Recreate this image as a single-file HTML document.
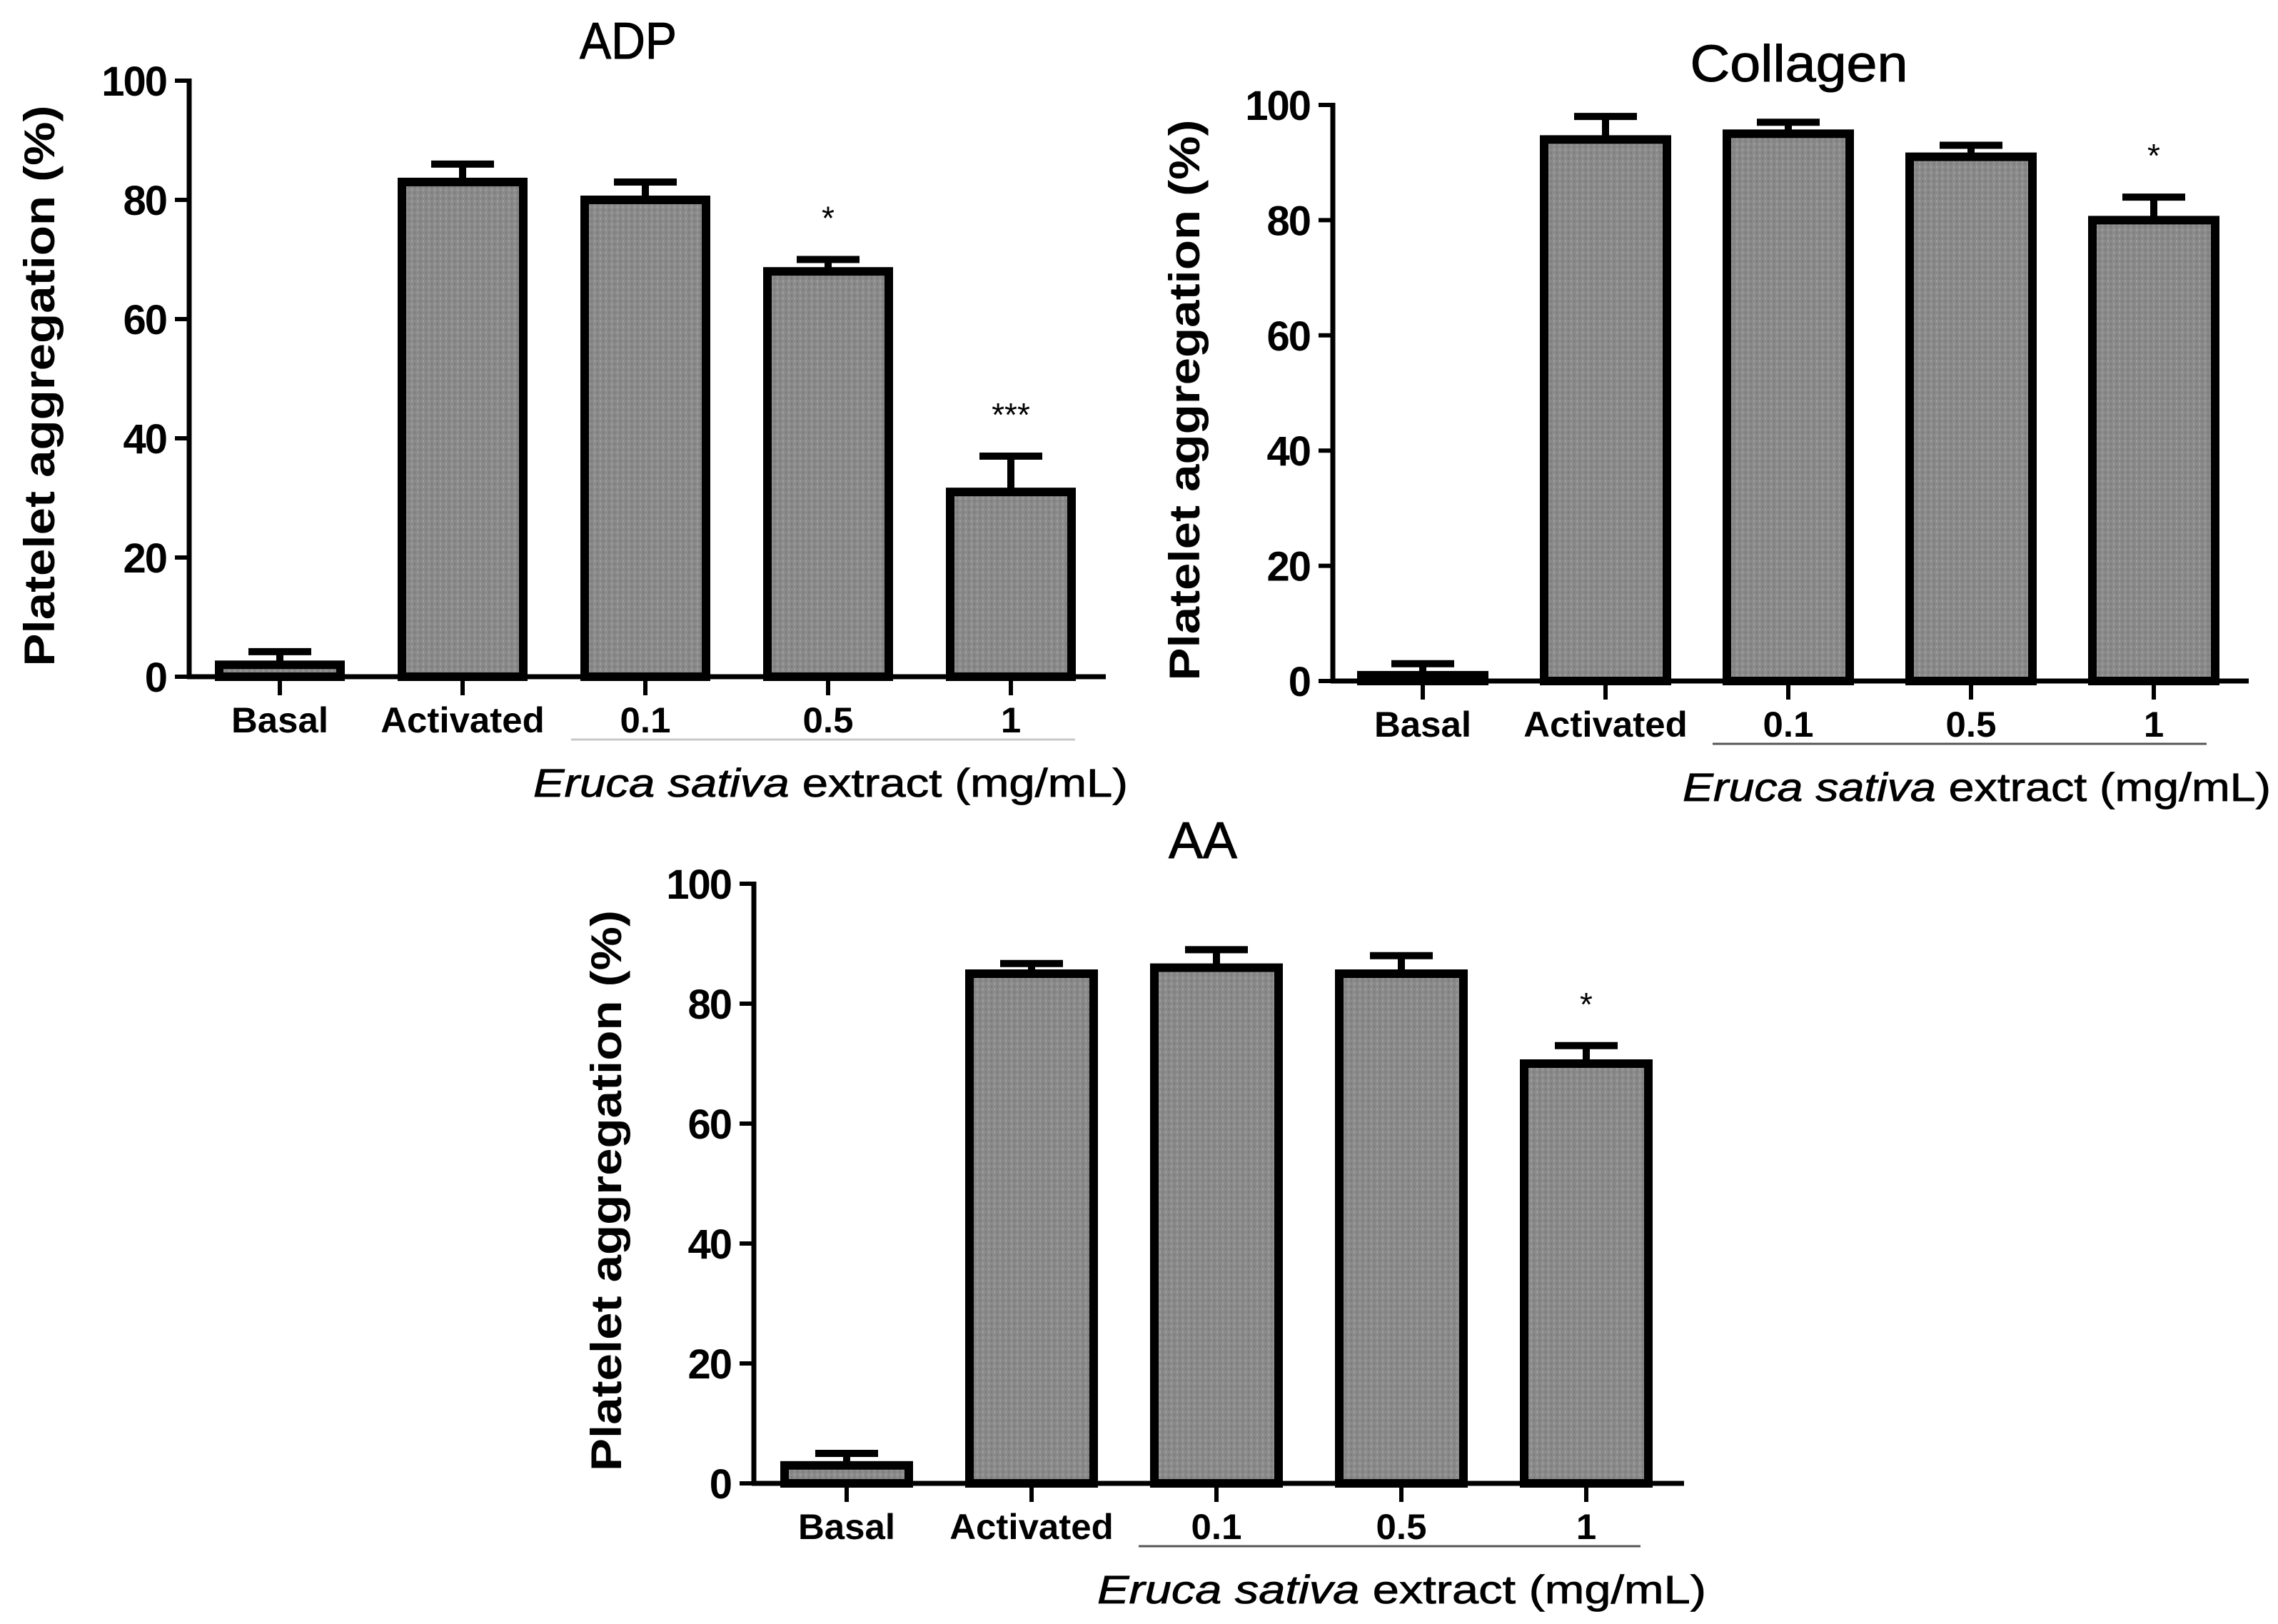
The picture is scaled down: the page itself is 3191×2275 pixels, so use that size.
<!DOCTYPE html>
<html><head><meta charset="utf-8"><style>
html,body{margin:0;padding:0;background:#fff}
svg{display:block}
text{font-family:"Liberation Sans",Arial,sans-serif;fill:#000}
</style></head><body>
<svg id="fig" width="3191" height="2275" viewBox="0 0 3191 2275" xmlns="http://www.w3.org/2000/svg">
<defs>
<pattern id="dots" width="8" height="8" patternUnits="userSpaceOnUse">
<rect width="8" height="8" fill="#8a8a8a"/><rect x="0" y="0" width="2" height="4" fill="#9c9c9c"/><rect x="4" y="4" width="2" height="4" fill="#7c7c7c"/>
</pattern>
</defs>
</svg>
<script>
const categories = ["Basal","Activated","0.1","0.5","1"];
const adpValues = [2, 83, 80, 68, 31];
const adpErrors = [2.2, 3, 3, 2, 6];
const adpStars = ["","","","*","***"];
const colValues = [1, 94, 95, 91, 80];
const colErrors = [2, 4, 2, 2, 4];
const colStars = ["","","","","*"];
const aaValues = [3, 85, 86, 85, 70];
const aaErrors = [2, 1.7, 3, 3, 3];
const aaStars = ["","","","","*"];
const yTicks = [0, 20, 40, 60, 80, 100];

const NS = "http://www.w3.org/2000/svg";
const svg = document.getElementById("fig");
function mk(tag, attrs, parent, txt){
  const e = document.createElementNS(NS, tag);
  for (const k in attrs) e.setAttribute(k, attrs[k]);
  if (txt !== undefined) e.textContent = txt;
  (parent || svg).appendChild(e);
  return e;
}

function drawChart(cfg, values, errors, stars){
  const g = mk("g", {});
  
  
  const y = v => cfg.y0 - (cfg.y0 - cfg.y100) * v / 100;
  const x = i => cfg.c0 + cfg.step * i;
  const t = mk("text", {x: cfg.titleX, y: cfg.titleY, "text-anchor": "middle", "font-size": 72, textLength: cfg.titleW, lengthAdjust: "spacingAndGlyphs", stroke: "#000", "stroke-width": 1}, g, cfg.title);
  
  
  const yt = mk("text", {x: 0, y: 0, "text-anchor": "middle", "font-size": 60, "font-weight": "bold", textLength: 786, lengthAdjust: "spacingAndGlyphs", transform: `translate(${cfg.ytX},${(cfg.y0 + cfg.y100) / 2 + 10}) rotate(-90)`}, g, "Platelet aggregation (%)");
  
  
  values.forEach((v, i) => {
    const top = y(v), bx = x(i) - cfg.bw / 2;
    const eb = mk("line", {x1: x(i), x2: x(i), y1: top, y2: y(v + errors[i]), stroke: "#000", "stroke-width": 10}, g);
    
    
    const cap = mk("line", {x1: x(i) - 44, x2: x(i) + 44, y1: y(v + errors[i]), y2: y(v + errors[i]), stroke: "#000", "stroke-width": 10}, g);
    
    
    const r = mk("rect", {x: bx, y: top, width: cfg.bw, height: cfg.y0 - top, fill: "url(#dots)", stroke: "#000", "stroke-width": 12}, g);
    
    
    if (stars[i]) {
      const s = mk("text", {x: x(i), y: y(v + errors[i]) - 42, "text-anchor": "middle", "font-size": 46}, g, stars[i]);
      
      
    }
    const tk = mk("line", {x1: x(i), x2: x(i), y1: cfg.y0, y2: cfg.y0 + 26, stroke: "#000", "stroke-width": 6}, g);
    
    
    const lb = mk("text", {x: 0, y: 0, "text-anchor": "middle", "font-size": 50, "font-weight": "bold", transform: `translate(${x(i)},${cfg.y0 + 78}) scale(1.02,1)`}, g, categories[i]);
    
    
  });
  const ya = mk("line", {x1: cfg.ax, x2: cfg.ax, y1: cfg.y100 - 3, y2: cfg.y0 + 3, stroke: "#000", "stroke-width": 7}, g);
  
  
  const xa = mk("line", {x1: cfg.ax - 3, x2: cfg.axEnd, y1: cfg.y0, y2: cfg.y0, stroke: "#000", "stroke-width": 7}, g);
  
  
  yTicks.forEach(v => {
    const tk = mk("line", {x1: cfg.ax - 20, x2: cfg.ax, y1: y(v), y2: y(v), stroke: "#000", "stroke-width": 6}, g);
    
    
    const tl = mk("text", {x: cfg.ax - 32, y: y(v) + 21, "text-anchor": "end", "font-size": 58, "font-weight": "bold", "letter-spacing": -2}, g, String(v));
    
    
  });
  const ul = mk("line", {x1: cfg.ulX1, x2: cfg.ulX2, y1: cfg.y0 + 88, y2: cfg.y0 + 88, stroke: cfg.ulColor, "stroke-width": 3}, g);
  
  
  const et = mk("text", {x: cfg.etX, y: cfg.y0 + 168, "font-size": 56, textLength: cfg.etW, lengthAdjust: "spacingAndGlyphs", stroke: "#000", "stroke-width": 0.8}, g);
  
  
  mk("tspan", {"font-style": "italic"}, et, "Eruca sativa");
  mk("tspan", {}, et, cfg.etRest);
}

drawChart({name: "adp-chart", title: "ADP", titleX: 880, titleY: 82, titleW: 136, ytX: 76, ax: 265, axEnd: 1549, y0: 948, y100: 113, c0: 392, step: 256, bw: 170, ulX1: 800, ulX2: 1506, ulColor: "#c8c8c8", etX: 747, etW: 833, etRest: " extract (mg/mL)"}, adpValues, adpErrors, adpStars);
drawChart({name: "collagen-chart", title: "Collagen", titleX: 2520, titleY: 114, titleW: 305, ytX: 1680, ax: 1867, axEnd: 3150, y0: 954, y100: 147, c0: 1993, step: 256, bw: 172, ulX1: 2399, ulX2: 3091, ulColor: "#555", etX: 2357, etW: 824, etRest: " extract (mg/mL)"}, colValues, colErrors, colStars);
drawChart({name: "aa-chart", title: "AA", titleX: 1685, titleY: 1202, titleW: 96, ytX: 870, ax: 1056, axEnd: 2359, y0: 2078, y100: 1238, c0: 1186, step: 259, bw: 174, ulX1: 1595, ulX2: 2298, ulColor: "#555", etX: 1537, etW: 853, etRest: " extract  (mg/mL)"}, aaValues, aaErrors, aaStars);
</script>
</body></html>
